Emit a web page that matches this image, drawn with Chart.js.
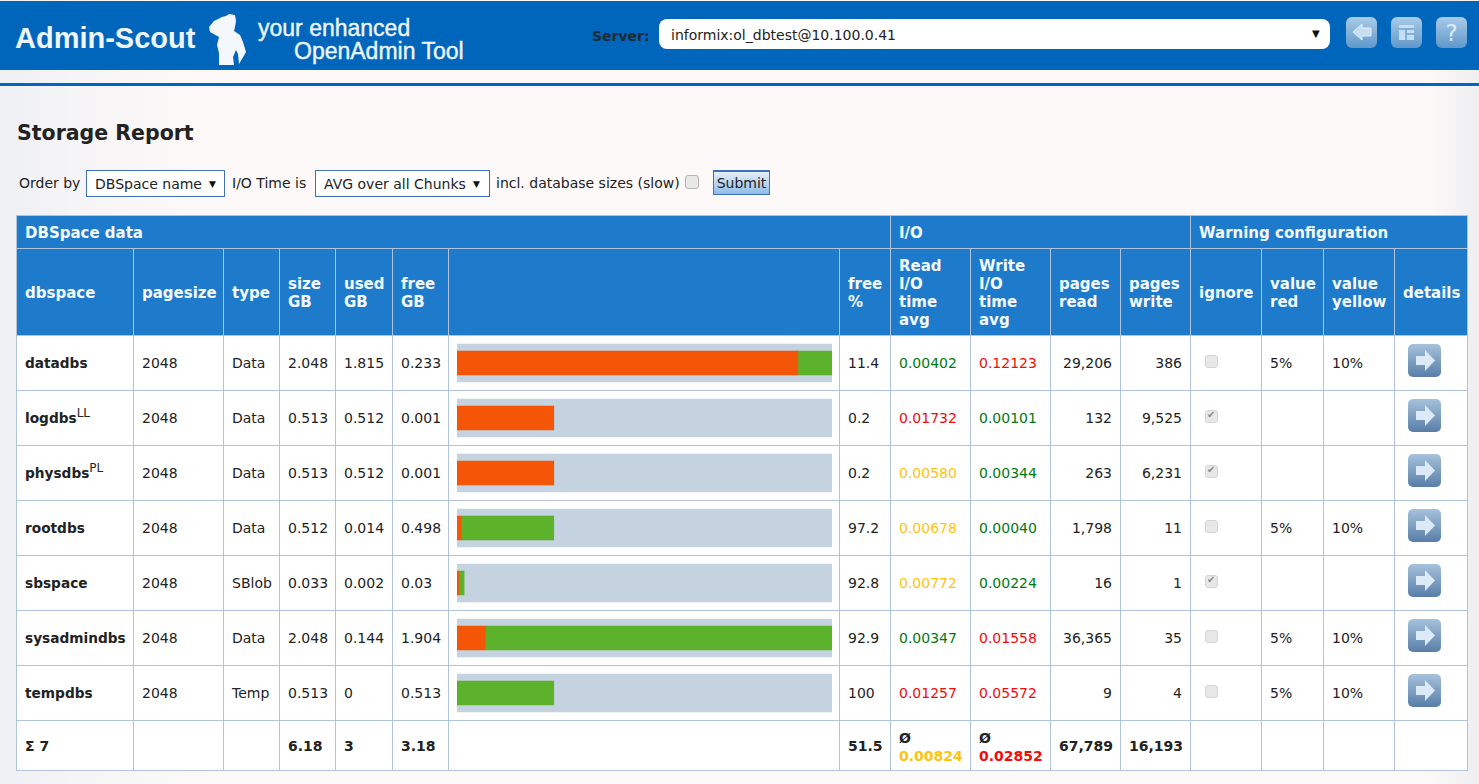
<!DOCTYPE html>
<html>
<head>
<meta charset="utf-8">
<title>Storage Report</title>
<script src="https://cdn.jsdelivr.net/npm/chart.js@4/dist/chart.umd.min.js"></script>
<style>
  html, body { margin: 0; padding: 0; }
  body {
    width: 1479px; height: 784px; overflow: hidden; position: relative;
    font: 14px "DejaVu Sans", sans-serif; color: #222;
    background: linear-gradient(90deg, #eef0f4 0, #f5f4f6 70px, #fdf9f8 220px, #fdf9f8 1425px, #f0f0f2 1470px);
  }
  .abs { position: absolute; white-space: nowrap; }
  #banner { left: 0; top: 1px; width: 1479px; height: 69px; background: #0066bb; }
  #rule { left: 0; top: 83px; width: 1479px; height: 3px; background: #0066bb; }
  .logo { color: #eef5fb; font-family: "Liberation Sans", sans-serif; font-weight: bold; transform-origin: 0 0; }
  .box { background: #fff; border: 1px solid #3f70b8; box-sizing: border-box; height: 27px; line-height: 27px; }
  .chk { width: 13px; height: 13px; box-sizing: border-box; background: #e8e8e8; border: 1px solid #d4d4d4; border-radius: 3px; position: relative; }
  .chk.on::after { content: "✔"; position: absolute; left: 1px; top: -2px; font-size: 10px; color: #8a8a8a; }

  #report { position: absolute; left: 16px; top: 215px; border-collapse: collapse; table-layout: fixed; width: 1451px; background: #fff; }
  #report td, #report th { border: 1px solid #b0c4de; padding: 0 8px; box-sizing: border-box; overflow: visible; white-space: nowrap; text-align: left; font-weight: normal; }
  #report th { background: #1e7bcb; color: #f4faff; font-weight: bold; font-size: 15px; line-height: 18px; padding-top: 2px; }
  #report tr.group th { height: 33px; }
  #report tr.head th { height: 87px; }
  #report tr.row td { height: 55px; }
  #report tr.sum td { height: 50px; font-weight: bold; }
  #report .name { font-weight: bold; font-size: 13.7px; }
  #report .num { text-align: right; }
  #report sup { font-size: 12px; line-height: 0; font-weight: normal; }
  .green { color: #007a10; } .red { color: #f50a0a; } .yellow { color: #ffc30f; }
  #report td.tight { line-height: 18px; padding-top: 2px; }

  .arrow { display: block; width: 33px; height: 33px; margin-top: -5px; }
  #storageBars { position: absolute; left: 457px; top: 335px; }
</style>
</head>
<body>

<div class="abs" id="banner"></div>
<div class="abs" id="rule"></div>

<!-- logo -->
<div class="abs logo" style="left:15px;top:22px;font-size:29px;">Admin-Scout</div>
<svg class="abs" style="left:205px;top:12px" width="46" height="56" viewBox="0 0 46 56">
  <path fill="#f4f8fc" d="M4 15 L9 9 L17 5 L21 4 L24 2 L30 3 L31 9 L30 15 L29 19 L35 23 L38 30 L41 40 L37 47 L34 52 L33 42 L31 38 L28 45 L29 53 L14 53 L14 41 L12 33 L14 25 L5 20 Z"/>
</svg>
<div class="abs logo" style="left:258px;top:15px;font-size:23px;font-weight:normal;-webkit-text-stroke:0.4px #eef5fb;">your enhanced</div>
<div class="abs logo" style="left:294px;top:38px;font-size:23px;font-weight:normal;-webkit-text-stroke:0.4px #eef5fb;">OpenAdmin Tool</div>

<!-- server select -->
<div class="abs" style="left:592px;top:28px;font-weight:bold;font-size:14px;color:#1c2a36;">Server:</div>
<div class="abs" style="left:659px;top:19px;width:671px;height:30px;background:#fff;border-radius:8px;"></div>
<div class="abs" style="left:671px;top:27px;">informix:ol_dbtest@10.100.0.41</div>
<div class="abs" style="left:1312px;top:28px;font-size:10px;color:#111;">▼</div>

<!-- toolbar icons -->
<svg class="abs" style="left:1346px;top:17px" width="122" height="32" viewBox="0 0 122 32">
  <defs>
    <linearGradient id="tool" x1="0" y1="0" x2="0" y2="1">
      <stop offset="0" stop-color="#a9cbe8"/><stop offset="1" stop-color="#5f98cb"/>
    </linearGradient>
  </defs>
  <rect x="0" y="0" width="31" height="31" rx="6" fill="url(#tool)"/>
  <rect x="45" y="0" width="31" height="31" rx="6" fill="url(#tool)"/>
  <rect x="90" y="0" width="31" height="31" rx="6" fill="url(#tool)"/>
  <path d="M7 15 L16 7 L16 11 L25 11 L25 19 L16 19 L16 23 Z" fill="#c6def3" stroke="#e4f0fa"/>
  <path d="M53 8 H68 V23 H53 Z" fill="#c6def3"/>
  <path d="M53 12 H68 M60 12 V23 M60 17 H68" stroke="#6fa3d2" stroke-width="1.5" fill="none"/>
  <text x="105.5" y="24" text-anchor="middle" font-size="23" font-family="DejaVu Sans" fill="#dcebf8">?</text>
</svg>

<div class="abs" style="left:17px;top:121px;font-weight:bold;font-size:20.5px;color:#222;">Storage Report</div>

<!-- filter row -->
<div class="abs" style="left:19px;top:175px;">Order by</div>
<div class="abs box" style="left:86px;top:170px;width:139px;padding-left:8px;">DBSpace name<span style="position:absolute;left:122px;top:0;font-size:9px;color:#111;">▼</span></div>
<div class="abs" style="left:232px;top:175px;">I/O Time is</div>
<div class="abs box" style="left:315px;top:170px;width:175px;padding-left:8px;">AVG over all Chunks<span style="position:absolute;left:157px;top:0;font-size:9px;color:#111;">▼</span></div>
<div class="abs" style="left:496px;top:175px;">incl. database sizes (slow)</div>
<div class="abs chk" style="left:685px;top:175px;width:14px;height:14px;border-color:#b4b4b4;"></div>
<div class="abs" style="left:713px;top:170px;width:57px;height:25px;box-sizing:border-box;border:1px solid #3f70b8;border-top-width:2px;background:linear-gradient(#e4effa,#8fbce8);text-align:center;line-height:23px;">Submit</div>

<table id="report"></table>
<canvas id="storageBars" width="375" height="386"></canvas>

<script>
/* COLUMNS */

const colWidths = [117, 90, 56, 56, 57, 56, 391, 51, 80, 80, 70, 70, 71, 62, 71, 73];

const groupHeads = ["DBSpace data", "I/O", "Warning configuration"];

const colHeads = [
  "dbspace", "pagesize", "type", "size<br>GB", "used<br>GB", "free<br>GB", "",
  "free<br>%", "Read<br>I/O<br>time<br>avg", "Write<br>I/O<br>time<br>avg",
  "pages<br>read", "pages<br>write", "ignore", "value<br>red", "value<br>yellow", "details"
];

/* TABLE DATA */

const dbspaces = ["datadbs", "logdbs<sup>LL</sup>", "physdbs<sup>PL</sup>", "rootdbs", "sbspace", "sysadmindbs", "tempdbs"];
const pageSizes = [2048, 2048, 2048, 2048, 2048, 2048, 2048];
const spaceTypes = ["Data", "Data", "Data", "Data", "SBlob", "Data", "Temp"];
const sizeGb = ["2.048", "0.513", "0.513", "0.512", "0.033", "2.048", "0.513"];
const usedGb = ["1.815", "0.512", "0.512", "0.014", "0.002", "0.144", "0"];
const freeGb = ["0.233", "0.001", "0.001", "0.498", "0.03", "1.904", "0.513"];
const freePct = ["11.4", "0.2", "0.2", "97.2", "92.8", "92.9", "100"];
const readIo = ["0.00402", "0.01732", "0.00580", "0.00678", "0.00772", "0.00347", "0.01257"];
const readColor = ["green", "red", "yellow", "yellow", "yellow", "green", "red"];
const writeIo = ["0.12123", "0.00101", "0.00344", "0.00040", "0.00224", "0.01558", "0.05572"];
const writeColor = ["red", "green", "green", "green", "green", "red", "red"];
const pagesRead = ["29,206", "132", "263", "1,798", "16", "36,365", "9"];
const pagesWrite = ["386", "9,525", "6,231", "11", "1", "35", "4"];
const ignored = [false, true, true, false, true, false, false];
const valueRed = ["5%", "", "", "5%", "", "5%", "5%"];
const valueYellow = ["10%", "", "", "10%", "", "10%", "10%"];

const totals = ["Σ 7", "", "", "6.18", "3", "3.18", "", "51.5"];

/* BAR LENGTHS, PERCENT OF THE TRACK */

const barUsed = [90.9, 25.8, 25.8, 1.1, 0.5, 7.5, 0];
const barFree = [9.1, 0, 0, 24.7, 1.4, 92.5, 25.8];
const barTrack = [100, 100, 100, 100, 100, 100, 100];

/* BUILD TABLE */

const arrowSvg =
  '<svg class="arrow" viewBox="0 0 33 33"><defs><linearGradient id="ARW" x1="0" y1="0" x2="0" y2="1">' +
  '<stop offset="0" stop-color="#a6c2dc"/><stop offset="1" stop-color="#587ea8"/></linearGradient></defs>' +
  '<rect x="0" y="0" width="33" height="33" rx="5" fill="url(#ARW)"/>' +
  '<path d="M8 12 H17 V6 L27 16.5 L17 27 V21 H8 Z" fill="#dce9f7"/></svg>';

function buildTable() {

  let html = "<colgroup>" +
    colWidths.map(w => `<col style="width:${w}px">`).join("") +
    "</colgroup>";

  html += `<tr class="group"><th colspan="8">${groupHeads[0]}</th>` +
    `<th colspan="4">${groupHeads[1]}</th>` +
    `<th colspan="4">${groupHeads[2]}</th></tr>`;

  html += '<tr class="head">' +
    colHeads.map(h => `<th>${h}</th>`).join("") + "</tr>";

  dbspaces.forEach((name, i) => {

    const check = ignored[i] ? "chk on" : "chk";

    html += `<tr class="row">
      <td class="name">${name}</td>
      <td>${pageSizes[i]}</td>
      <td>${spaceTypes[i]}</td>
      <td>${sizeGb[i]}</td>
      <td>${usedGb[i]}</td>
      <td>${freeGb[i]}</td>
      <td></td>
      <td>${freePct[i]}</td>
      <td class="${readColor[i]}">${readIo[i]}</td>
      <td class="${writeColor[i]}">${writeIo[i]}</td>
      <td class="num">${pagesRead[i]}</td>
      <td class="num">${pagesWrite[i]}</td>
      <td style="padding-left:14px"><div class="${check}" style="margin-top:-3px"></div></td>
      <td>${valueRed[i]}</td>
      <td>${valueYellow[i]}</td>
      <td style="padding-left:13px">${arrowSvg.replace(/ARW/g, "arw" + i)}</td>
    </tr>`;
  });

  html += '<tr class="sum">' +
    totals.map(t => `<td>${t}</td>`).join("") +
    '<td class="tight">Ø<br><span class="yellow">0.00824</span></td>' +
    '<td class="tight">Ø<br><span class="red">0.02852</span></td>' +
    '<td class="num">67,789</td><td class="num">16,193</td>' +
    "<td></td><td></td><td></td><td></td></tr>";

  document.getElementById("report").innerHTML = html;
}

buildTable();

/* STORAGE BARS */

new Chart(document.getElementById("storageBars"), {

  type: "bar",

  data: {

    labels: dbspaces,

    datasets: [
      {
        label: "used",
        data: barUsed,
        backgroundColor: "#f55507",
        stack: "fill",
        grouped: false,
        barThickness: 24,
        order: 1
      },
      {
        label: "free",
        data: barFree,
        backgroundColor: "#5cb32b",
        stack: "fill",
        grouped: false,
        barThickness: 24,
        order: 1
      },
      {
        label: "track",
        data: barTrack,
        backgroundColor: "#c5d2e0",
        stack: "track",
        grouped: false,
        barThickness: 38,
        order: 2
      }
    ]
  },

  options: {

    indexAxis: "y",

    responsive: false,

    animation: false,

    layout: {
      padding: { top: 0.5, bottom: 0.5, left: 0, right: 0 }
    },

    plugins: {
      legend: { display: false },
      tooltip: { enabled: false }
    },

    scales: {
      x: { display: false, stacked: true, min: 0, max: 100 },
      y: { display: false, stacked: true }
    }
  }
});
</script>
</body>
</html>
